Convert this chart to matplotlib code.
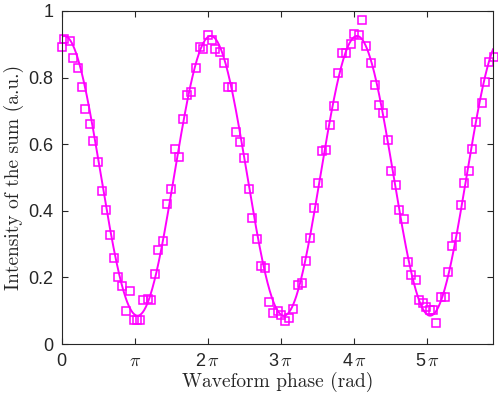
import numpy as np
import matplotlib
matplotlib.use("Agg")
import matplotlib.pyplot as plt

plt.rcParams['mathtext.fontset'] = 'cm'
plt.rcParams['font.family'] = ['Liberation Sans', 'DejaVu Sans']

# Measured phases (in units of pi) and intensities
phase_over_pi = [
    0.000, 0.034, 0.116, 0.153, 0.221, 0.276, 0.325, 0.385, 0.434, 0.495,
    0.553, 0.604, 0.663, 0.717, 0.776, 0.827, 0.881, 0.936, 0.986, 1.036,
    1.072, 1.117, 1.178, 1.223, 1.277, 1.325, 1.391, 1.437, 1.496, 1.551,
    1.609, 1.664, 1.719, 1.773, 1.833, 1.896, 1.940, 2.004, 2.052, 2.101,
    2.165, 2.220, 2.279, 2.333, 2.391, 2.439, 2.497, 2.561, 2.606, 2.671,
    2.725, 2.784, 2.835, 2.885, 2.954, 2.999, 3.057, 3.112, 3.167, 3.235,
    3.295, 3.340, 3.402, 3.449, 3.508, 3.555, 3.617, 3.675, 3.732, 3.777,
    3.832, 3.896, 3.955, 4.005, 4.064, 4.115, 4.169, 4.228, 4.287, 4.337,
    4.396, 4.460, 4.505, 4.570, 4.615, 4.679, 4.734, 4.779, 4.847, 4.893,
    4.948, 4.989, 5.034, 5.085, 5.126, 5.184, 5.243, 5.290, 5.344, 5.399,
    5.462, 5.508, 5.571, 5.617, 5.672, 5.745, 5.786, 5.840, 5.908,
]
intensity = [
    0.893, 0.915, 0.911, 0.858, 0.829, 0.772, 0.706, 0.661, 0.611, 0.546,
    0.459, 0.402, 0.327, 0.257, 0.200, 0.174, 0.099, 0.160, 0.072, 0.072,
    0.072, 0.132, 0.136, 0.132, 0.210, 0.282, 0.309, 0.420, 0.465, 0.586,
    0.562, 0.677, 0.749, 0.757, 0.829, 0.892, 0.886, 0.927, 0.913, 0.887,
    0.876, 0.843, 0.771, 0.771, 0.637, 0.608, 0.559, 0.465, 0.377, 0.315,
    0.234, 0.228, 0.125, 0.092, 0.099, 0.087, 0.070, 0.079, 0.106, 0.176,
    0.184, 0.248, 0.318, 0.408, 0.484, 0.580, 0.582, 0.657, 0.715, 0.813,
    0.875, 0.875, 0.901, 0.931, 0.929, 0.973, 0.895, 0.843, 0.777, 0.718,
    0.695, 0.613, 0.520, 0.477, 0.402, 0.374, 0.247, 0.207, 0.191, 0.132,
    0.122, 0.110, 0.102, 0.102, 0.062, 0.140, 0.140, 0.216, 0.293, 0.322,
    0.417, 0.483, 0.520, 0.585, 0.667, 0.725, 0.788, 0.847, 0.861,
]

# Fitted cosine parameters
fit_offset = 0.505
fit_amplitude = 0.42
fit_phase_over_pi = 0.04

x_max_over_pi = 5.9
xtick_labels = ['0', r'$\pi$', r'2$\,\pi$', r'3$\,\pi$', r'4$\,\pi$', r'5$\,\pi$']
ytick_values = [0, 0.2, 0.4, 0.6, 0.8, 1]
ytick_labels = ['0', '0.2', '0.4', '0.6', '0.8', '1']
x_label = 'Waveform phase (rad)'
y_label = 'Intensity of the sum (a.u.)'

color = '#ff00ff'
gray = '#262626'

fig = plt.figure(figsize=(4.98, 3.97), dpi=100)
ax = fig.add_axes([0.1235, 0.1335, 0.990 - 0.1235, 0.9723 - 0.1335])

xfit = np.linspace(0, x_max_over_pi * np.pi, 600)
yfit = fit_offset + fit_amplitude * np.cos(xfit - fit_phase_over_pi * np.pi)
ax.plot(xfit, yfit, color=color, lw=1.4)

x = np.pi * np.array(phase_over_pi)
ax.plot(x, intensity, linestyle='none', marker='s', markersize=5.2,
        markerfacecolor='none', markeredgecolor=color, markeredgewidth=1.1,
        clip_on=False)

ax.set_xlim(0, x_max_over_pi * np.pi)
ax.set_ylim(0, 1)
ax.set_xticks(np.pi * np.arange(6))
ax.set_xticklabels(xtick_labels)
ax.set_yticks(ytick_values)
ax.set_yticklabels(ytick_labels)

ax.tick_params(direction='in', length=4, width=0.8, top=True, right=True,
               labelsize=13, colors=gray)
ax.tick_params(axis='x', pad=6.5)
ax.tick_params(axis='y', pad=6)
for s in ax.spines.values():
    s.set_color(gray)
    s.set_linewidth(0.8)

ax.set_xlabel(x_label, fontsize=14, color=gray, labelpad=1, family='cmr10')
ax.set_ylabel(y_label, fontsize=14, color=gray, labelpad=3, family='cmr10')

fig.savefig('out.png', dpi=100)
